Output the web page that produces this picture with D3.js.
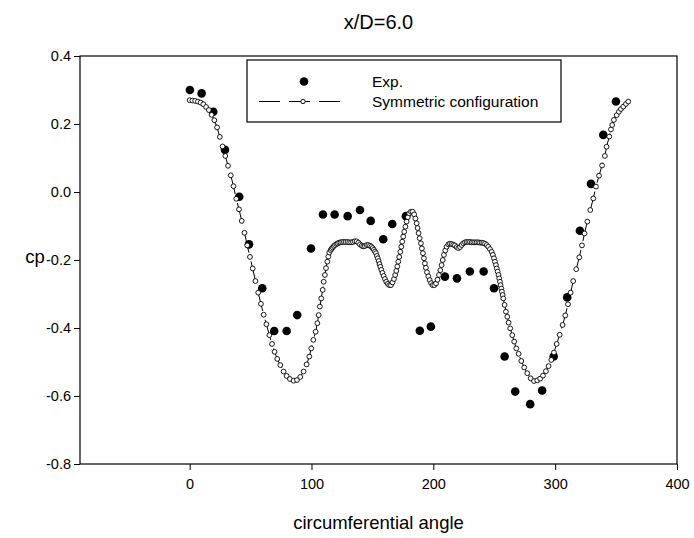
<!DOCTYPE html>
<html><head><meta charset="utf-8">
<script src="https://cdn.jsdelivr.net/npm/d3@7"></script>
<style>body{margin:0;background:#fff}svg{display:block}text{font-family:"Liberation Sans",Arial,sans-serif;fill:#000}</style>
</head><body>
<svg id="chart" width="694" height="538"></svg>
<script>
const chartTitle = "x/D=6.0";
const xLabel = "circumferential angle";
const yLabel = "cp";
const xTicks = [0, 100, 200, 300, 400];
const yTicks = [-0.8, -0.6, -0.4, -0.2, 0.0, 0.2, 0.4];
const seriesNames = ["Exp.", "Symmetric configuration"];

const expAngle = [0.2, 9.8, 19.4, 29.0, 40.7, 48.7, 59.6, 69.4, 79.6, 88.3, 99.6, 109.4, 119.0, 129.7, 139.8, 148.6, 158.9, 166.3, 177.5, 188.9, 198.0, 209.5, 219.4, 230.0, 241.3, 249.8, 258.5, 267.2, 279.5, 289.3, 298.8, 309.9, 320.3, 329.4, 339.5, 349.9];
const expCp = [0.300, 0.290, 0.236, 0.124, -0.014, -0.154, -0.283, -0.409, -0.409, -0.362, -0.166, -0.066, -0.066, -0.071, -0.053, -0.085, -0.139, -0.094, -0.071, -0.408, -0.396, -0.249, -0.254, -0.234, -0.234, -0.283, -0.484, -0.587, -0.624, -0.584, -0.484, -0.310, -0.114, 0.024, 0.168, 0.266];

const simAngle = [0, 2.25, 4.5, 6.75, 9, 11.25, 13.5, 15.75, 18, 20.25, 22.5, 24.75, 27, 29.25, 31.5, 33.75, 36, 38.25, 40.5, 42.75, 45, 47.25, 49.5, 51.75, 54, 56.25, 58.5, 60.75, 63,
 65.4, 67.6, 69.7, 71.9, 74.4, 77.1, 79.6, 82.3, 85.3, 88.1, 90.8, 93.5, 96.0,
 98.2, 99.8, 101.5, 103.4, 104.8, 105.9, 106.9, 108.0, 109.2, 110.0, 111.0, 111.9, 113.0, 113.8, 114.6,
 115.7, 116.5, 117.4, 118.3, 119.3, 120.4, 121.5, 122.7, 123.9, 125.2, 126.6, 128, 129.5, 131, 132.5, 134, 135.5, 137, 138.5, 139.8, 141.2, 142.5, 143.8, 145.2, 146.6, 148, 149.2,
 150.2, 151.2, 152.1, 152.9, 153.7, 154.4, 155.1, 155.8, 156.5, 157.3, 158.2, 159.2, 160.3, 161.4, 162.6, 163.8, 165.2, 166.5, 167.7, 168.7, 169.6, 170.4, 171.2, 172.0, 172.9, 173.7, 174.5, 175.3, 176.1, 177.1, 178.1, 179.1, 180.2, 181.6, 183.0, 184.3, 185.3, 186.3, 187.1, 187.9, 188.8, 189.8, 190.6, 191.5, 192.3, 193.1, 193.9, 194.8, 195.9, 197.0, 198.2, 199.4, 200.8, 202.2, 203.4, 204.6, 205.7, 206.8, 207.7, 208.7, 209.8, 210.9, 212.3,
 213.6, 215, 216.4, 217.7, 219.1, 220.5, 221.9, 223.2, 224.6, 226, 227.3, 228.7, 230.1, 231.5, 232.8, 234.2, 235.6, 237, 238.3, 239.7, 241, 242.4, 243.8, 245.1, 246.5, 247.9,
 248.9, 249.8, 250.6, 251.4, 252.1, 252.8, 253.5, 254.1, 254.7, 255.2, 255.8, 256.3, 256.9, 257.4, 258.5, 259.6, 260.7, 261.8, 263.1, 264.8, 266.4, 268.1, 270.0, 272.2, 274.6, 277.1, 279.9, 282.6, 285.3, 287.7, 290.0, 292.4, 294.6, 296.8, 299.0, 301.2, 303.7, 306.1, 308.3, 310.5, 312.7, 314.8, 317.3, 319.8, 322.0, 324.1, 326.4, 328.8, 331.3, 333.5, 336.0, 338.5, 340.8, 342.2, 344.4, 345.8, 346.8, 348.2, 350.5, 352.3, 354.0, 355.9, 358.1, 360.0];
const simCp = [0.270, 0.269, 0.268, 0.266, 0.263, 0.258, 0.250, 0.241, 0.227, 0.211, 0.190, 0.162, 0.134, 0.106, 0.077, 0.049, 0.017, -0.020, -0.051, -0.085, -0.120, -0.157, -0.191, -0.225, -0.262, -0.296, -0.329, -0.361, -0.389,
 -0.421, -0.447, -0.470, -0.491, -0.509, -0.528, -0.541, -0.550, -0.555, -0.553, -0.544, -0.528, -0.507,
 -0.484, -0.460, -0.435, -0.411, -0.386, -0.362, -0.337, -0.313, -0.288, -0.264, -0.244, -0.224, -0.205, -0.190, -0.178,
 -0.171, -0.167, -0.163, -0.159, -0.156, -0.153, -0.151, -0.149, -0.148, -0.147, -0.147, -0.147, -0.147, -0.148, -0.148, -0.147, -0.145, -0.145, -0.149, -0.154, -0.158, -0.160, -0.159, -0.156, -0.156, -0.158, -0.161,
 -0.165, -0.170, -0.175, -0.180, -0.188, -0.195, -0.203, -0.212, -0.220, -0.229, -0.238, -0.247, -0.256, -0.264, -0.270, -0.274, -0.274, -0.266, -0.256, -0.244, -0.232, -0.219, -0.205, -0.191, -0.176, -0.161, -0.146, -0.131, -0.117, -0.102, -0.087, -0.074, -0.063, -0.058, -0.058, -0.066, -0.078, -0.092, -0.106, -0.121, -0.136, -0.151, -0.166, -0.180, -0.195, -0.210, -0.223, -0.236, -0.248, -0.259, -0.268, -0.274, -0.274, -0.269, -0.258, -0.244, -0.230, -0.215, -0.200, -0.185, -0.172, -0.161, -0.154,
 -0.152, -0.153, -0.155, -0.157, -0.162, -0.165, -0.162, -0.156, -0.151, -0.148, -0.147, -0.147, -0.147, -0.148, -0.148, -0.148, -0.148, -0.148, -0.149, -0.149, -0.150, -0.152, -0.156, -0.161, -0.168, -0.176,
 -0.185, -0.195, -0.205, -0.215, -0.225, -0.234, -0.244, -0.254, -0.264, -0.274, -0.284, -0.293, -0.303, -0.313, -0.332, -0.352, -0.367, -0.384, -0.401, -0.421, -0.440, -0.460, -0.476, -0.497, -0.516, -0.533, -0.548, -0.556, -0.554, -0.549, -0.540, -0.527, -0.512, -0.494, -0.472, -0.447, -0.420, -0.391, -0.363, -0.330, -0.296, -0.262, -0.227, -0.192, -0.157, -0.122, -0.087, -0.053, -0.019, 0.016, 0.048, 0.078, 0.106, 0.133, 0.163, 0.184, 0.197, 0.212, 0.226, 0.236, 0.244, 0.251, 0.259, 0.266];

const W = 694, H = 538;
const m = {left: 80, right: 17, top: 56, bottom: 74};
const svg = d3.select("#chart");
const x = d3.scaleLinear().domain([-90, 400]).range([m.left, W - m.right]);
const y = d3.scaleLinear().domain([-0.8, 0.4]).range([H - m.bottom, m.top]);

svg.append("rect").attr("x", m.left).attr("y", m.top)
  .attr("width", W - m.left - m.right).attr("height", H - m.top - m.bottom)
  .attr("fill", "none").attr("stroke", "#000").attr("stroke-width", 1.2);

const xAxis = svg.append("g").attr("transform", `translate(0,${H - m.bottom})`)
  .call(d3.axisBottom(x).tickValues(xTicks).tickSize(6).tickPadding(9).tickFormat(d3.format("d")));
const yAxis = svg.append("g").attr("transform", `translate(${m.left},0)`)
  .call(d3.axisLeft(y).tickValues(yTicks).tickSize(6).tickPadding(3).tickFormat(d3.format(".1f")));
[xAxis, yAxis].forEach(g => {
  g.select(".domain").remove();
  g.selectAll("line").attr("stroke", "#000").attr("stroke-width", 1);
  g.selectAll("text").attr("font-size", 14.5).attr("font-family", "Liberation Sans, Arial, sans-serif").attr("fill", "#000");
});
yAxis.selectAll("text").text(d => d3.format(".1f")(d).replace("−", "-"));

const simData = simAngle.map((a, i) => [a, simCp[i]]);
const line = d3.line().x(d => x(d[0])).y(d => y(d[1]));
svg.append("path").datum(simData).attr("d", line).attr("fill", "none")
  .attr("stroke", "#000").attr("stroke-width", 1).attr("stroke-dasharray", "21,9");

const expData = expAngle.map((a, i) => [a, expCp[i]]);
svg.append("g").selectAll("circle").data(expData).join("circle")
  .attr("cx", d => x(d[0])).attr("cy", d => y(d[1])).attr("r", 4.3).attr("fill", "#000");

svg.append("g").selectAll("circle").data(simData).join("circle")
  .attr("cx", d => x(d[0])).attr("cy", d => y(d[1])).attr("r", 2.4)
  .attr("fill", "#fff").attr("stroke", "#000").attr("stroke-width", 0.9);

svg.append("text").attr("x", (m.left + W - m.right) / 2).attr("y", 29)
  .attr("text-anchor", "middle").attr("font-size", 20).text(chartTitle);
svg.append("text").attr("x", (m.left + W - m.right) / 2).attr("y", 529)
  .attr("text-anchor", "middle").attr("font-size", 18.5).text(xLabel);
svg.append("text").attr("x", 35).attr("y", 263)
  .attr("text-anchor", "middle").attr("font-size", 18.5).text(yLabel);

const lg = svg.append("g");
lg.append("rect").attr("x", 247).attr("y", 60).attr("width", 314).attr("height", 62)
  .attr("fill", "#fff").attr("stroke", "#000").attr("stroke-width", 1.2);
lg.append("circle").attr("cx", 304).attr("cy", 81.5).attr("r", 4.3).attr("fill", "#000");
lg.append("line").attr("x1", 259).attr("x2", 341).attr("y1", 101.5).attr("y2", 101.5)
  .attr("stroke", "#000").attr("stroke-width", 1).attr("stroke-dasharray", "21,9");
lg.append("circle").attr("cx", 303).attr("cy", 101.5).attr("r", 2.2)
  .attr("fill", "#fff").attr("stroke", "#000").attr("stroke-width", 0.9);
lg.append("text").attr("x", 372).attr("y", 86.5).attr("font-size", 15.5).text(seriesNames[0]);
lg.append("text").attr("x", 372).attr("y", 106.5).attr("font-size", 15.5).text(seriesNames[1]);
</script>
</body></html>
